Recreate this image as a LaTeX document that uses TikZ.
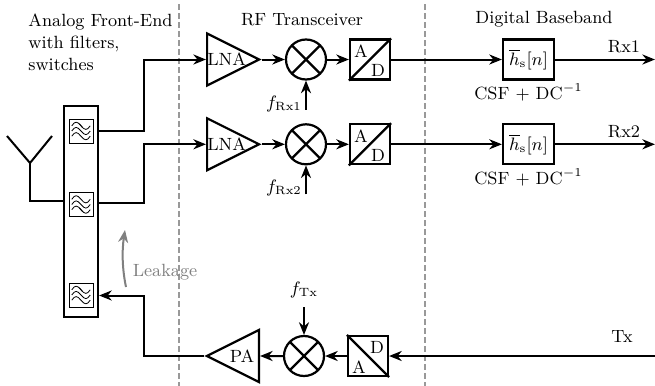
\documentclass[tikz,border=0pt]{standalone}
\usepackage{amsmath}
\usepackage{tikz}
\usetikzlibrary{arrows.meta,positioning,shapes.geometric,calc}
\definecolor{ink}{HTML}{000000}
\definecolor{leakgray}{HTML}{808080}
\definecolor{divgray}{HTML}{999999}
\tikzset{
  every node/.style={font=\fontsize{8.85}{11}\selectfont},
  block/.style={draw=ink,line width=1.1pt,inner sep=0pt},
  amp/.style={block,isosceles triangle,isosceles triangle apex angle=53,
              isosceles triangle stretches,minimum width=26pt,minimum height=26pt},
  mixer/.style={block,circle,minimum size=20pt,
                path picture={
                  \draw[line width=1.1pt] (path picture bounding box.north west)--(path picture bounding box.south east);
                  \draw[line width=1.1pt] (path picture bounding box.north east)--(path picture bounding box.south west);
                }},
  conv/.style={block,minimum size=20pt},
  firbox/.style={block,minimum width=25.5pt,minimum height=20pt},
  filterbox/.style={draw=ink,line width=0.5pt,minimum size=12pt,inner sep=0pt},
  sigarr/.style={-{Stealth[length=6.3pt,width=5pt,inset=2pt]},line width=1pt},
  sigline/.style={line width=1pt},
  divider/.style={draw=divgray,line width=0.8pt,dash pattern=on 3pt off 1.5pt},
  caption/.style={inner sep=0pt}
}
\newcommand{\wavefilter}[2]{
  \node[filterbox] (#1) {};
  \foreach \dy in {2.6pt,0pt,-2.6pt}
    \draw[line width=0.4pt] ($(#1)+(-4.6pt,\dy)$) .. controls ++(1.6pt,2.4pt) and ++(-2pt,2.4pt) .. ++(4.6pt,0pt) .. controls ++(2pt,-2.4pt) and ++(-1.6pt,-2.4pt) .. ++(4.6pt,0pt);
  \draw[line width=0.4pt] ($(#1)+(-0.8pt,#2+1pt)$)--++(1.6pt,-2pt);
}
\begin{document}
\begin{tikzpicture}[x=0.5pt,y=-0.5pt]
  \useasboundingbox (0,0) rectangle (655,386);
  % dividers
  \draw[divider] (179,4)--(179,386);
  \draw[divider] (425,4)--(425,386);
  % headers
  \node[caption,align=left,anchor=north west] (afe) at (28,13) {Analog Front-End\\with filters,\\switches};
  \node[caption] (rfhead) at (302,20) {RF Transceiver};
  \node[caption] (bbhead) at (544,19) {Digital Baseband};
  % front-end
  \node[draw=ink,line width=1.1pt,minimum width=17pt,minimum height=105.5pt,inner sep=0pt] (duplexer) at (81,211.5) {};
  \begin{scope}[shift={(81,131)}] \wavefilter{filta}{2.6pt} \end{scope}
  \begin{scope}[shift={(81,204.5)}] \wavefilter{filtb}{-2.6pt} \end{scope}
  \begin{scope}[shift={(81,295)}] \wavefilter{filtc}{2.6pt} \end{scope}
  \coordinate (antfoot) at (30,163);
  \coordinate (antl) at (7,136);
  \coordinate (antr) at (52,136);
  \draw[sigline] (antl)--(antfoot)--(antr);
  \draw[sigline] (antfoot)|-(duplexer.west|-0,201);
  % Rx rows
  \foreach \row/\yy/\nn in {a/59.5/1,b/144.3/2}{
    \node[amp,anchor=lower side] (lna\row) at (206,\yy) {LNA};
    \node[mixer] (mix\row) at (306,\yy) {};
    \node[conv] (adc\row) at (370,\yy) {};
    \draw[line width=1.1pt] (adc\row.south west)--(adc\row.north east);
    \node[caption] at ($(adc\row)+(-4.5pt,4pt)$) {A};
    \node[caption] at ($(adc\row)+(4pt,-5.5pt)$) {D};
    \node[firbox] (fir\row) at (528.5,\yy) {$\overline{h}_{\mathrm{s}}[n]$};
    \node[caption,below=1.5pt of fir\row] (csf\row) {CSF + DC$^{-1}$};
    \coordinate (out\row) at (655,\yy);
    \node[caption] (rxlab\row) at (624,\yy-13) {Rx\nn};
    \node[caption] (flab\row) at (284,\yy+44) {$f_{\mathrm{Rx\nn}}$};
    \coordinate (lo\row) at (306,\yy+50);
    \draw[sigarr] (lna\row.apex)--(mix\row);
    \draw[sigarr] (mix\row)--(adc\row);
    \draw[sigarr] (adc\row)--(fir\row);
    \draw[sigarr] (fir\row)--(out\row);
    \draw[sigarr] (lo\row)--(mix\row);
  }
  % Tx row
  \node[amp,shape border rotate=180,anchor=lower side] (pa) at (260,356) {PA};
  \node[mixer] (mixtx) at (304,356) {};
  \node[conv] (dac) at (368,356) {};
  \draw[line width=1.1pt] (dac.north west)--(dac.south east);
  \node[caption] at ($(dac)+(4.5pt,4.5pt)$) {D};
  \node[caption] at ($(dac)+(-4.5pt,-5.5pt)$) {A};
  \coordinate (txin) at (655,356);
  \node[caption] (txlab) at (622,337) {Tx};
  \node[caption] (ftx) at (304,290) {$f_{\mathrm{Tx}}$};
  \coordinate (lotx) at (304,307);
  \draw[sigarr] (txin)--(dac);
  \draw[sigarr] (dac)--(mixtx);
  \draw[sigarr] (mixtx)--(pa);
  \draw[sigarr] (lotx)--(mixtx);
  % routing
  \draw[sigarr] (duplexer.east|-filta)-|(144,59.5)--(lnaa.lower side);
  \draw[sigarr] (duplexer.east|-0,203)-|(144,144.3)--(lnab.lower side);
  \draw[sigarr] (pa.apex)-|(144,295.5)--(duplexer.east|-0,295.5);
  % leakage
  \coordinate (leakfrom) at (126,287);
  \coordinate (leakto) at (125,230);
  \draw[sigarr,leakgray] (leakfrom) .. controls (122,268) and (122,250) .. (leakto);
  \node[caption,text=leakgray] (leak) at (165,272) {Leakage};
\end{tikzpicture}
\end{document}
